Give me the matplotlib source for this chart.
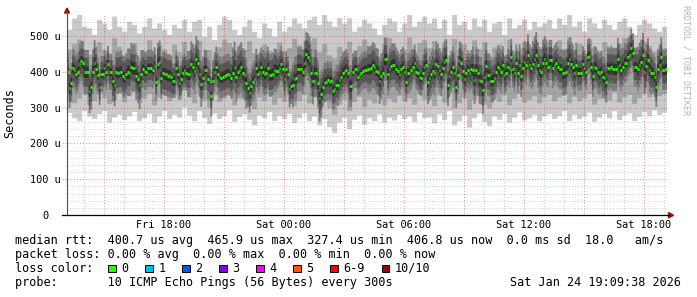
import numpy as np
import matplotlib
matplotlib.use('Agg')
import matplotlib.pyplot as plt
from matplotlib.patches import Rectangle, Polygon
from matplotlib.lines import Line2D

plt.rcParams['font.family'] = 'DejaVu Sans Mono'

W, H = 697, 297

# time axis in hours since Fri 00:00, rrd steps of 5 minutes
start_hour = 13 + 10 / 60
step_hours = 5 / 60
x_min = 13 + 9 / 60 + 38 / 3600
x_max = 43 + 9 / 60 + 38 / 3600
y_max = 558.7

# median rtt per 5 min step (us)
median_us = [
    400, 354, 370, 410, 405, 394, 400, 422, 430, 424, 399, 399, 399, 346, 357, 400, 426, 408, 390, 357, 394, 394, 410, 399,
    422, 399, 399, 375, 362, 399, 396, 399, 400, 388, 384, 394, 399, 398, 414, 410, 410, 388, 380, 362, 394, 408, 403, 400,
    410, 410, 410, 405, 416, 371, 421, 427, 384, 396, 394, 393, 388, 390, 385, 375, 375, 410, 395, 370, 380, 398, 404, 396,
    394, 394, 421, 414, 402, 435, 424, 394, 366, 382, 405, 405, 380, 375, 332, 375, 399, 414, 394, 386, 382, 386, 388, 391,
    394, 391, 383, 398, 414, 386, 400, 405, 413, 396, 391, 368, 356, 340, 360, 372, 379, 410, 394, 400, 414, 400, 394, 398,
    410, 391, 391, 394, 405, 403, 403, 410, 422, 407, 379, 407, 394, 351, 360, 363, 379, 382, 407, 408, 407, 400, 424, 449,
    442, 433, 398, 375, 396, 396, 368, 327, 338, 357, 370, 372, 377, 372, 375, 347, 351, 363, 363, 377, 386, 396, 400, 405,
    396, 360, 360, 400, 407, 407, 386, 391, 398, 403, 405, 405, 407, 407, 410, 419, 414, 403, 400, 374, 388, 398, 435, 435,
    394, 407, 416, 419, 419, 407, 403, 394, 407, 414, 400, 372, 396, 398, 405, 414, 426, 400, 396, 386, 382, 398, 414, 419,
    372, 382, 394, 403, 396, 422, 416, 405, 394, 410, 428, 433, 363, 388, 400, 413, 396, 358, 391, 431, 426, 403, 379, 396,
    405, 398, 407, 405, 377, 405, 398, 377, 375, 349, 385, 416, 391, 391, 375, 375, 382, 400, 413, 407, 400, 419, 391, 396,
    413, 407, 440, 407, 396, 424, 398, 419, 388, 410, 428, 419, 447, 419, 410, 422, 435, 447, 419, 405, 400, 426, 435, 426,
    413, 433, 433, 410, 419, 426, 414, 407, 407, 396, 396, 400, 424, 435, 422, 414, 398, 419, 398, 398, 398, 422, 410, 400,
    442, 444, 413, 388, 414, 410, 400, 394, 400, 386, 382, 372, 410, 407, 413, 407, 407, 407, 435, 419, 405, 414, 424, 426,
    440, 447, 466, 453, 413, 414, 407, 419, 428, 447, 400, 416, 433, 405, 398, 396, 386, 358, 407, 419, 440, 405, 405, 407,
]

# smoke per 15 min block (us): lowest / highest ping and 2nd lowest / 2nd highest
ping_min = [
    285, 270, 262, 290, 275, 268, 282, 290, 258, 272, 280, 265, 276, 288, 262, 270, 283, 258, 275, 290, 268, 280, 272, 300,
    278, 262, 290, 271, 255, 283, 268, 276, 292, 260, 274, 281, 266, 250, 278, 270, 287, 263, 276, 268, 282, 257, 270, 284,
    262, 275, 250, 268, 245, 229, 258, 272, 240, 266, 278, 252, 270, 262, 281, 258, 272, 264, 280, 268, 275, 260, 286, 270,
    272, 256, 281, 265, 290, 250, 262, 278, 244, 270, 283, 260, 248, 275, 266, 282, 258, 272, 286, 264, 270, 280, 262, 276,
    282, 268, 276, 290, 262, 280, 268, 275, 286, 260, 272, 282, 270, 290, 265, 278, 284, 262, 274, 288, 276, 292, 280, 286,
]
ping_max = [
    517, 549, 559, 526, 521, 503, 545, 535, 517, 554, 526, 512, 540, 531, 507, 526, 549, 521, 535, 517, 503, 531, 521, 545,
    512, 540, 545, 498, 526, 489, 531, 554, 545, 517, 503, 526, 545, 512, 494, 535, 521, 498, 540, 512, 526, 549, 535, 521,
    545, 554, 531, 559, 540, 526, 550, 535, 549, 512, 526, 545, 535, 521, 503, 531, 549, 540, 512, 535, 559, 526, 540, 554,
    535, 549, 521, 545, 503, 559, 531, 540, 517, 549, 526, 545, 512, 535, 540, 503, 549, 521, 531, 545, 517, 540, 526, 535,
    545, 521, 549, 531, 559, 526, 540, 512, 549, 535, 521, 545, 531, 517, 540, 549, 526, 503, 531, 545, 535, 521, 512, 526,
]
ping_lo2 = [
    330, 312, 325, 342, 308, 318, 338, 326, 310, 322, 340, 315, 332, 345, 312, 325, 338, 306, 328, 342, 318, 334, 322, 348,
    328, 312, 340, 320, 300, 334, 316, 326, 342, 306, 324, 332, 312, 296, 328, 318, 336, 308, 326, 316, 334, 304, 318, 336,
    312, 328, 296, 318, 298, 280, 308, 322, 290, 316, 330, 302, 322, 312, 334, 306, 324, 314, 332, 318, 326, 308, 338, 322,
    324, 304, 334, 314, 342, 298, 312, 328, 294, 322, 336, 308, 298, 326, 316, 334, 306, 324, 338, 314, 322, 332, 312, 328,
    336, 318, 328, 342, 312, 330, 318, 326, 338, 308, 324, 334, 320, 342, 314, 328, 336, 310, 326, 340, 328, 344, 332, 338,
]
ping_hi2 = [
    462, 478, 490, 455, 448, 440, 482, 460, 452, 494, 470, 445, 466, 480, 438, 458, 488, 450, 474, 462, 442, 476, 455, 484,
    450, 472, 486, 444, 460, 435, 468, 490, 480, 456, 440, 462, 485, 452, 432, 476, 458, 444, 482, 456, 466, 492, 474, 458,
    486, 494, 455, 478, 446, 438, 470, 458, 484, 450, 472, 490, 464, 455, 442, 478, 494, 470, 452, 462, 496, 456, 480, 488,
    466, 486, 450, 480, 440, 492, 460, 476, 448, 488, 462, 482, 444, 468, 476, 440, 490, 456, 466, 484, 452, 480, 460, 472,
    484, 458, 488, 464, 496, 460, 478, 446, 490, 468, 456, 482, 466, 450, 478, 494, 462, 442, 466, 484, 472, 456, 448, 466,
]
# half spread of the inner pings around the median, per 45 min (us)
spread3 = [55, 62, 50, 58, 66, 52, 60, 48, 64, 56, 58, 70, 54, 60, 50, 62, 66, 55, 58, 52,
           64, 60, 56, 50, 62, 58, 54, 66, 60, 52, 58, 64, 56, 62, 50, 58, 60, 54, 62, 56]
spread4 = [36, 40, 34, 42, 38, 32, 44, 36, 40, 34, 38, 46, 36, 42, 34, 40, 44, 36, 38, 34,
           42, 40, 36, 34, 40, 38, 36, 44, 40, 34, 38, 42, 36, 40, 34, 38, 40, 36, 42, 38]
spread5 = [14, 16, 12, 15, 18, 13, 16, 14, 17, 12, 15, 18, 14, 16, 13, 15, 17, 14, 16, 12,
           15, 16, 14, 13, 16, 15, 14, 17, 16, 13, 15, 17, 14, 16, 13, 15, 16, 14, 17, 15]

smoke_colors = ['#cacaca', '#a4a4a4', '#7e7e7e', '#585858', '#323232']

x_ticks = [18, 24, 30, 36, 42]
x_tick_labels = ['Fri 18:00', 'Sat 00:00', 'Sat 06:00', 'Sat 12:00', 'Sat 18:00']
y_ticks = [0, 100, 200, 300, 400, 500]
y_tick_labels = ['0', '100 u', '200 u', '300 u', '400 u', '500 u']

legend_rows = [
    'median rtt:  400.7 us avg  465.9 us max  327.4 us min  406.8 us now  0.0 ms sd  18.0   am/s',
    'packet loss: 0.00 % avg  0.00 % max  0.00 % min  0.00 % now',
    'loss color:',
    'probe:       10 ICMP Echo Pings (56 Bytes) every 300s',
]
loss_labels = ['0', '1', '2', '3', '4', '5', '6-9', '10/10']
loss_colors = ['#26ff00', '#00b8ff', '#0059ff', '#7e00ff', '#ff00ff', '#ff5500', '#ff0000', '#a10000']
stamp = 'Sat Jan 24 19:09:38 2026'


def fx(px):
    return px / W


def fy(py):
    return 1 - py / H


fig = plt.figure(figsize=(W / 100, H / 100), dpi=100)
fig.patch.set_facecolor('white')
ax = fig.add_axes([fx(67), fy(215), 600 / W, 200 / H])
ax.set_xlim(x_min, x_max)
ax.set_ylim(0, y_max)
ax.set_axis_off()

# smoke bands
n = len(median_us)
edges = start_hour + step_hours * np.arange(n + 1)
med = np.array(median_us, dtype=float)
r1 = n // len(ping_min)
r2 = n // len(spread3)
hi5 = med + np.repeat(spread5, r2)
lo5 = med - np.repeat(spread5, r2)
hi4 = np.maximum(med + np.repeat(spread4, r2), hi5)
lo4 = np.minimum(med - np.repeat(spread4, r2), lo5)
hi3 = np.maximum(med + np.repeat(spread3, r2), hi4)
lo3 = np.minimum(med - np.repeat(spread3, r2), lo4)
hi2 = np.maximum(np.repeat(ping_hi2, r1), hi3)
lo2 = np.minimum(np.repeat(ping_lo2, r1), lo3)
hi1 = np.maximum(np.repeat(ping_max, r1), hi2)
lo1 = np.minimum(np.repeat(ping_min, r1), lo2)

for lo, hi, c in zip([lo1, lo2, lo3, lo4, lo5], [hi1, hi2, hi3, hi4, hi5], smoke_colors):
    ax.stairs(hi, edges, baseline=lo, fill=True, color=c, lw=0, zorder=1)

# median markers
ax.hlines(med, edges[:-1], edges[1:], colors=loss_colors[0], lw=2.1,
          capstyle='butt', zorder=6)

# grid (semi transparent, drawn over the smoke)
hours = np.arange(14, 44)
dots = (0, (1, 2))
ax.vlines([h for h in hours if h % 3], 0, y_max, colors='black', alpha=0.22, lw=0.7,
          linestyles=dots, zorder=4)
ax.vlines([h for h in hours if h % 3 == 0], 0, y_max, colors='#c00000', alpha=0.45, lw=0.7,
          linestyles=dots, zorder=5)
levels = np.arange(20, 560, 20)
ax.hlines([v for v in levels if v % 100], x_min, x_max, colors='black', alpha=0.22, lw=0.7,
          linestyles=dots, zorder=4)
ax.hlines([v for v in levels if v % 100 == 0], x_min - 0.25, x_max, colors='#c00000', alpha=0.45,
          lw=0.7, linestyles=dots, zorder=5, clip_on=False)

# axes with arrows
fig.add_artist(Line2D([fx(67), fx(67)], [fy(215), fy(12)], color='#505050', lw=0.8))
fig.add_artist(Line2D([fx(62), fx(669)], [fy(215.3), fy(215.3)], color='black', lw=0.9))
fig.add_artist(Polygon([[fx(64.5), fy(13)], [fx(69.5), fy(13)], [fx(67), fy(8)]],
                       closed=True, color='#a01010', transform=fig.transFigure))
fig.add_artist(Polygon([[fx(668.5), fy(212.5)], [fx(668.5), fy(218)], [fx(673.5), fy(215.3)]],
                       closed=True, color='#a01010', transform=fig.transFigure))

# tick labels
axis_fs = 7.35
for v, lab in zip(y_ticks, y_tick_labels):
    py = 215 - v * 200 / y_max
    right = 60.5 if ' ' in lab else 60.5 - 2 * 6.15
    fig.text(fx(right), fy(py), lab, ha='right', va='center_baseline', fontsize=axis_fs)
for h, lab in zip(x_ticks, x_tick_labels):
    px = 67 + (h - x_min) * 600 / (x_max - x_min)
    fig.text(fx(px), fy(227.5), lab, ha='center', va='baseline', fontsize=axis_fs)

fig.text(fx(10), fy(113), 'Seconds', rotation=90, ha='center', va='center', fontsize=8.5)
fig.text(fx(686), fy(5), 'RRDTOOL / TOBI OETIKER', rotation=270, ha='center', va='top',
         fontsize=6, color='#b4b4b4')

# legend
base = [244.3, 258.1, 271.9, 285.7]
for row, yb in zip(legend_rows, base):
    fig.text(fx(15.4), fy(yb), row, ha='left', va='baseline', fontsize=8.5)
fig.text(fx(681.5), fy(base[3]), stamp, ha='right', va='baseline', fontsize=8.5)

sx = 108.3
for lab, c in zip(loss_labels, loss_colors):
    fig.add_artist(Rectangle((fx(sx), fy(272)), 7.3 / W, 6.8 / H, facecolor=c,
                             edgecolor='black', lw=0.7, transform=fig.transFigure))
    fig.text(fx(sx + 12.9), fy(base[2]), lab, ha='left', va='baseline', fontsize=8.5)
    sx += 13.4 + len(lab) * 7.1 + 16.5

fig.savefig('out.png', dpi=100)
